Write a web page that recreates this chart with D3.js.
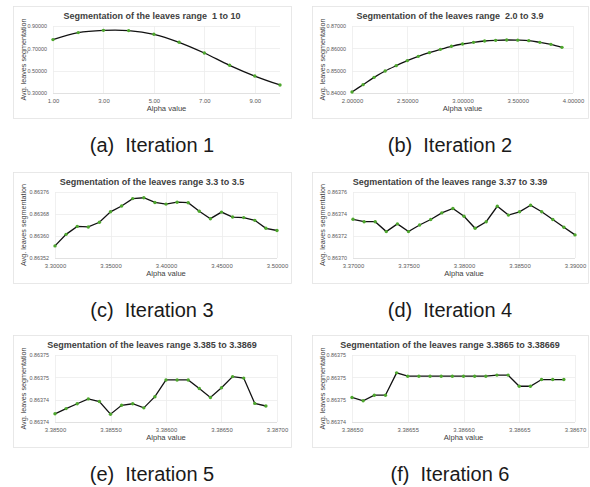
<!DOCTYPE html>
<html>
<head>
<meta charset="utf-8">
<script src="https://cdn.jsdelivr.net/npm/d3@7/dist/d3.min.js"></script>
<style>
  body { margin: 0; background: #fff; }
  svg { display: block; }
</style>
</head>
<body>
<div id="chart"></div>
<script>
// ---- data ----
var titles = [
  "Segmentation of the leaves range  1 to 10",
  "Segmentation of the leaves range  2.0 to 3.9",
  "Segmentation of the leaves range 3.3 to 3.5",
  "Segmentation of the leaves range 3.37 to 3.39",
  "Segmentation of the leaves range 3.385 to 3.3869",
  "Segmentation of the leaves range 3.3865 to 3.38669"
];
var captions = ["(a)  Iteration 1", "(b)  Iteration 2", "(c)  Iteration 3",
                "(d)  Iteration 4", "(e)  Iteration 5", "(f)  Iteration 6"];

var alphaA = [1, 2, 3, 4, 5, 6, 7, 8, 9, 10];
var segA = [0.778, 0.841, 0.861, 0.859, 0.826, 0.754, 0.658, 0.548, 0.452, 0.372];

var alphaB = [2.0, 2.1, 2.2, 2.3, 2.4, 2.5, 2.6, 2.7, 2.8, 2.9,
              3.0, 3.1, 3.2, 3.3, 3.4, 3.5, 3.6, 3.7, 3.8, 3.9];
var segB = [0.84045, 0.84373, 0.84701, 0.84985, 0.85224, 0.85448, 0.85642, 0.85806, 0.85955, 0.86090,
            0.86194, 0.86269, 0.86328, 0.86358, 0.86373, 0.86366, 0.86343, 0.86269, 0.86179, 0.86045];

var alphaC = [3.30, 3.31, 3.32, 3.33, 3.34, 3.35, 3.36, 3.37, 3.38, 3.39, 3.40,
              3.41, 3.42, 3.43, 3.44, 3.45, 3.46, 3.47, 3.48, 3.49, 3.50];
var segC = [0.863564, 0.863606, 0.863635, 0.863633, 0.863650, 0.863688, 0.863709, 0.863736,
            0.863739, 0.863722, 0.863716, 0.863723, 0.863721, 0.863690, 0.863663, 0.863687,
            0.863669, 0.863667, 0.863657, 0.863628, 0.863620];

var alphaD = [3.370, 3.371, 3.372, 3.373, 3.374, 3.375, 3.376, 3.377, 3.378, 3.379, 3.380,
              3.381, 3.382, 3.383, 3.384, 3.385, 3.386, 3.387, 3.388, 3.389, 3.390];
var segD = [0.8637352, 0.863733, 0.863733, 0.863724, 0.863731, 0.863724, 0.863730, 0.863735,
            0.863741, 0.863745, 0.863738, 0.863727, 0.863733, 0.863747, 0.863739, 0.863742,
            0.863748, 0.863742, 0.863735, 0.863728, 0.863721];

var alphaE = [3.3850, 3.3851, 3.3852, 3.3853, 3.3854, 3.3855, 3.3856, 3.3857, 3.3858, 3.3859,
              3.3860, 3.3861, 3.3862, 3.3863, 3.3864, 3.3865, 3.3866, 3.3867, 3.3868, 3.3869];
var segE = [0.8637382, 0.8637396, 0.8637409, 0.8637422, 0.8637415, 0.8637381, 0.8637405, 0.8637409,
            0.8637398, 0.8637428, 0.8637473, 0.8637473, 0.8637473, 0.8637450, 0.8637426, 0.8637452,
            0.8637482, 0.8637478, 0.8637410, 0.8637403];

var alphaF = [3.38650, 3.38651, 3.38652, 3.38653, 3.38654, 3.38655, 3.38656, 3.38657, 3.38658, 3.38659,
              3.38660, 3.38661, 3.38662, 3.38663, 3.38664, 3.38665, 3.38666, 3.38667, 3.38668, 3.38669];
var segF = [0.8637462, 0.8637459, 0.8637464, 0.8637464, 0.8637484, 0.8637481, 0.8637481, 0.8637481,
            0.8637481, 0.8637481, 0.8637481, 0.8637481, 0.8637481, 0.8637482, 0.8637482, 0.8637472,
            0.8637472, 0.8637478, 0.8637478, 0.8637478];

var xTicksA = [1, 3, 5, 7, 9];
var xTicksB = [2.0, 2.5, 3.0, 3.5, 4.0];
var xTicksC = [3.30, 3.35, 3.40, 3.45, 3.50];
var xTicksD = [3.370, 3.375, 3.380, 3.385, 3.390];
var xTicksE = [3.3850, 3.3855, 3.3860, 3.3865, 3.3870];
var xTicksF = [3.38650, 3.38655, 3.38660, 3.38665, 3.38670];

var yTicksA = [0.3, 0.5, 0.7, 0.9];
var yTicksB = [0.84, 0.85, 0.86, 0.87];
var yTicksC = [0.86352, 0.86360, 0.86368, 0.86376];
var yTicksD = [0.86370, 0.86372, 0.86374, 0.86376];
var yTicksE = [0.863736, 0.863742, 0.863748, 0.863754];
var yTicksF = [0.863744, 0.863746, 0.863748, 0.863750];
var yLabelsE = ["0.86374", "0.86374", "0.86375", "0.86375"];
var yLabelsF = ["0.86374", "0.86375", "0.86375", "0.86375"];

var panels = [
  {alpha: alphaA, seg: segA, xTicks: xTicksA, xDom: [1, 10], yTicks: yTicksA, xFmt: ".2f", smooth: true},
  {alpha: alphaB, seg: segB, xTicks: xTicksB, xDom: [2, 4], yTicks: yTicksB, xFmt: ".5f", smooth: true},
  {alpha: alphaC, seg: segC, xTicks: xTicksC, xDom: [3.3, 3.5], yTicks: yTicksC, xFmt: ".5f"},
  {alpha: alphaD, seg: segD, xTicks: xTicksD, xDom: [3.37, 3.39], yTicks: yTicksD, xFmt: ".5f"},
  {alpha: alphaE, seg: segE, xTicks: xTicksE, xDom: [3.385, 3.387], yTicks: yTicksE, xFmt: ".5f", yLabels: yLabelsE},
  {alpha: alphaF, seg: segF, xTicks: xTicksF, xDom: [3.3865, 3.3867], yTicks: yTicksF, xFmt: ".5f", yLabels: yLabelsF}
];

// ---- layout ----
var W = 590, H = 487;
var cols = [{left: 13, right: 291}, {left: 312, right: 588}];
var plotX = [[53, 280], [352, 573], [55, 277], [353, 575], [55, 277], [352, 575]];
var rows = [
  {top: 6, bottom: 118, pTop: 26, pBot: 93, cap: 152},
  {top: 172, bottom: 283, pTop: 192, pBot: 258, cap: 317},
  {top: 335, bottom: 447, pTop: 355, pBot: 422, cap: 481}
];

var svg = d3.select("#chart").append("svg")
    .attr("width", W)
    .attr("height", H);

panels.forEach(function (p, i) {
  var col = cols[i % 2], row = rows[Math.floor(i / 2)];

  var x = d3.scaleLinear().domain(p.xDom).range(plotX[i]);
  var y = d3.scaleLinear()
      .domain([p.yTicks[0], p.yTicks[p.yTicks.length - 1]])
      .range([row.pBot, row.pTop]);

  var g = svg.append("g");

  // chart frame
  g.append("rect")
      .attr("x", col.left + 0.5)
      .attr("y", row.top + 0.5)
      .attr("width", col.right - col.left)
      .attr("height", row.bottom - row.top)
      .attr("fill", "#fff")
      .attr("stroke", "#e3e3e3")
      .attr("stroke-width", 0.8);

  // gridlines
  g.selectAll("line.hgrid")
      .data(p.yTicks)
      .enter().append("line")
      .attr("x1", plotX[i][0]).attr("x2", plotX[i][1])
      .attr("y1", function (d) { return Math.round(y(d)) + 0.5; })
      .attr("y2", function (d) { return Math.round(y(d)) + 0.5; })
      .attr("stroke", function (d, k) { return k === 0 ? "#d9d9d9" : "#ececec"; })
      .attr("stroke-width", 0.8);

  g.selectAll("line.vgrid")
      .data(p.xTicks)
      .enter().append("line")
      .attr("x1", function (d) { return Math.round(x(d)) + 0.5; })
      .attr("x2", function (d) { return Math.round(x(d)) + 0.5; })
      .attr("y1", row.pTop).attr("y2", row.pBot)
      .attr("stroke", "#ececec")
      .attr("stroke-width", 0.8);

  // x axis labels
  var xAxis = d3.axisBottom(x).tickValues(p.xTicks).tickSize(0).tickPadding(6)
      .tickFormat(d3.format(p.xFmt));
  var xa = g.append("g")
      .attr("transform", "translate(0," + row.pBot + ")")
      .call(xAxis);
  xa.select(".domain").remove();
  xa.selectAll("text")
      .attr("font-family", "Liberation Sans")
      .attr("font-size", 5.9)
      .attr("fill", "#595959");

  // y axis labels
  var yAxis = d3.axisLeft(y).tickValues(p.yTicks).tickSize(0).tickPadding(6)
      .tickFormat(function (d, k) { return p.yLabels ? p.yLabels[k] : d3.format(".5f")(d); });
  var ya = g.append("g")
      .attr("transform", "translate(" + plotX[i][0] + ",0)")
      .call(yAxis);
  ya.select(".domain").remove();
  ya.selectAll("text")
      .attr("font-family", "Liberation Sans")
      .attr("font-size", 5.4)
      .attr("fill", "#595959");

  // line
  var line = d3.line()
      .x(function (d, k) { return x(p.alpha[k]); })
      .y(function (d) { return y(d); })
      .curve(p.smooth ? d3.curveCatmullRom : d3.curveLinear);

  g.append("path")
      .datum(p.seg)
      .attr("d", line)
      .attr("fill", "none")
      .attr("stroke", "#111")
      .attr("stroke-width", 1.3);

  g.selectAll("circle")
      .data(p.seg)
      .enter().append("circle")
      .attr("cx", function (d, k) { return x(p.alpha[k]); })
      .attr("cy", function (d) { return y(d); })
      .attr("r", 1.7)
      .attr("fill", "#4ea72e");

  // chart title
  g.append("text")
      .attr("x", (col.left + col.right) / 2)
      .attr("y", row.top + 12.5)
      .attr("text-anchor", "middle")
      .attr("font-family", "Liberation Sans")
      .attr("font-weight", "bold")
      .attr("font-size", 9)
      .attr("fill", "#404040")
      .style("white-space", "pre")
      .text(titles[i]);

  // axis titles
  g.append("text")
      .attr("x", (plotX[i][0] + plotX[i][1]) / 2)
      .attr("y", row.pBot + 18)
      .attr("text-anchor", "middle")
      .attr("font-family", "Liberation Sans")
      .attr("font-size", 7.6)
      .attr("fill", "#404040")
      .text("Alpha value");

  g.append("text")
      .attr("transform", "translate(" + (col.left + 13) + "," + ((row.pTop + row.pBot) / 2) + ") rotate(-90)")
      .attr("text-anchor", "middle")
      .attr("font-family", "Liberation Sans")
      .attr("font-size", 7.2)
      .attr("fill", "#404040")
      .text("Avg. leaves segmentation");

  // caption below the chart
  svg.append("text")
      .attr("x", (col.left + col.right) / 2)
      .attr("y", row.cap)
      .attr("text-anchor", "middle")
      .attr("font-family", "Liberation Sans")
      .attr("font-size", 20)
      .attr("fill", "#1a1a1a")
      .style("white-space", "pre")
      .text(captions[i]);
});
</script>
</body>
</html>
